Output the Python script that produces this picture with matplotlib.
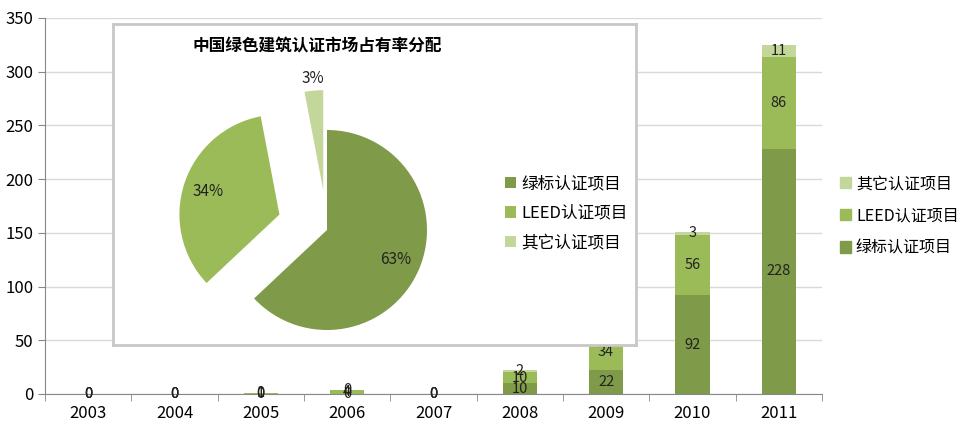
import numpy as np
import matplotlib.pyplot as plt
from matplotlib.patches import Patch

plt.rcParams['font.family'] = ['Noto Sans CJK SC', 'DejaVu Sans']

# data
years = ['2003', '2004', '2005', '2006', '2007', '2008', '2009', '2010', '2011']
green_label = [0, 0, 0, 0, 0, 10, 22, 92, 228]
leed = [0, 0, 1, 4, 0, 10, 34, 56, 86]
other = [0, 0, 0, 0, 0, 2, 2, 3, 11]

pie_names = ['绿标认证项目', 'LEED认证项目', '其它认证项目']
pie_share = [63, 34, 3]

c_green = '#7F9A48'
c_leed = '#9BBB59'
c_other = '#C4D79B'

fig = plt.figure(figsize=(9.67, 4.25), dpi=100)
ax = fig.add_axes([0.0465, 0.073, 0.8035, 0.885])

x = np.arange(len(years))
w = 0.4
b1 = ax.bar(x, green_label, w, color=c_green, zorder=2)
b2 = ax.bar(x, leed, w, bottom=green_label, color=c_leed, zorder=2)
b3 = ax.bar(x, other, w, bottom=np.add(green_label, leed), color=c_other, zorder=2)
for bc in (b1, b2, b3):
    ax.bar_label(bc, label_type='center', fontsize=10.5, color='#222222')

ax.set_xlim(-0.5, len(years) - 0.5)
ax.set_ylim(0, 350)
ax.set_yticks(range(0, 351, 50))
ax.set_xticks(x)
ax.set_xticklabels(years)
ax.set_xticks(np.arange(-0.5, len(years), 1), minor=True)
ax.tick_params(axis='x', which='major', length=0, pad=8, labelsize=12)
ax.tick_params(axis='x', which='minor', length=5, color='#888888')
ax.tick_params(axis='y', length=5, color='#888888', labelsize=12)
ax.yaxis.grid(True, color='#D9D9D9', lw=1, zorder=0)
for s in ('top', 'right'):
    ax.spines[s].set_visible(False)
for s in ('left', 'bottom'):
    ax.spines[s].set_color('#888888')

handles = [Patch(color=c_other), Patch(color=c_leed), Patch(color=c_green)]
fig.legend(handles, ['其它认证项目', 'LEED认证项目', '绿标认证项目'],
           loc='center left', bbox_to_anchor=(0.862, 0.492), frameon=False,
           fontsize=11.5, handlelength=0.7, handleheight=0.7, handletextpad=0.3,
           labelspacing=0.95, borderaxespad=0)

# inset pie
pax = fig.add_axes([113 / 967, 80 / 425, 523 / 967, 321 / 425], zorder=5)
wedges, texts, autotexts = pax.pie(
    pie_share, colors=[c_green, c_leed, c_other], startangle=90,
    counterclock=False, explode=[0, 0.5, 0.4], radius=1,
    autopct='%d%%', pctdistance=0.75, frame=True,
    textprops={'fontsize': 11, 'color': '#222222'})
# the small slice keeps its label outside
wg = wedges[2]
ang = np.deg2rad((wg.theta1 + wg.theta2) / 2)
cx, cy = wg.center
autotexts[2].set_position((cx + 1.12 * np.cos(ang), cy + 1.12 * np.sin(ang)))

pax.set_aspect('auto')
pax.set_xlim(-2.14, 3.09)
pax.set_ylim(-1.15, 2.06)
pax.set_xticks([])
pax.set_yticks([])
pax.set_facecolor('white')
for s in pax.spines.values():
    s.set_color('#C8C8C8')
    s.set_linewidth(2)
pax.text(0.39, 0.93, '中国绿色建筑认证市场占有率分配', transform=pax.transAxes,
         ha='center', va='center', fontsize=12, fontweight='bold')
pax.legend(wedges, pie_names, loc='center left', bbox_to_anchor=(0.72, 0.41),
           frameon=False, fontsize=12, handlelength=0.7, handleheight=0.7,
           handletextpad=0.3, labelspacing=0.75)

fig.savefig('out.png', dpi=100)
